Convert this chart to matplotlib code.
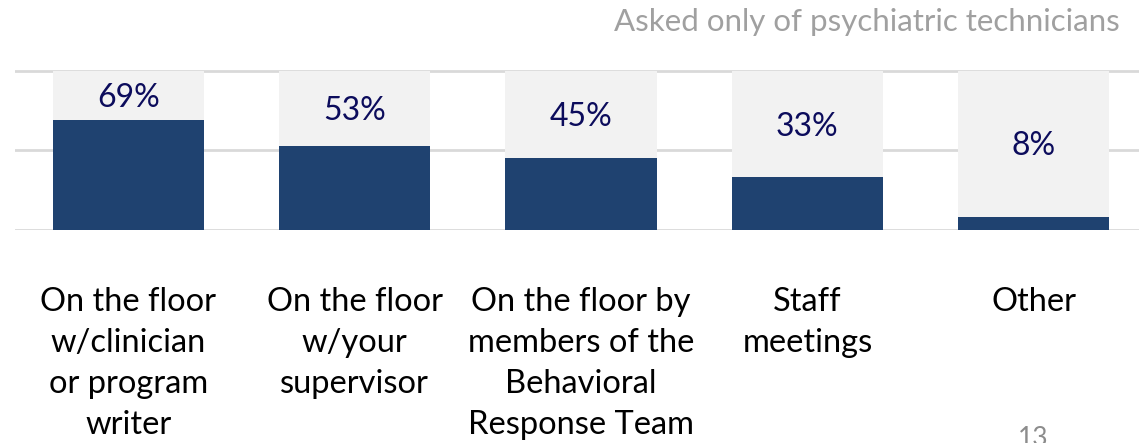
import matplotlib.pyplot as plt

plt.rcParams['font.family'] = ['Lato', 'DejaVu Sans']

categories = [
    "On the floor\nw/clinician\nor program\nwriter",
    "On the floor\nw/your\nsupervisor",
    "On the floor by\nmembers of the\nBehavioral\nResponse Team",
    "Staff\nmeetings",
    "Other",
]
values = [69, 53, 45, 33, 8]

bar_color = "#1f4270"
back_color = "#f2f2f2"
label_color = "#0c0c5c"

fig = plt.figure(figsize=(11.39, 4.43), dpi=100)
# axes runs a bit past the right edge like the original slide
ax = fig.add_axes([15 / 1139, 1 - 230 / 443, 1132 / 1139, 160 / 443])

x = range(len(values))
ax.bar(x, [100] * len(values), width=0.667, color=back_color, zorder=2)
ax.bar(x, values, width=0.667, color=bar_color, zorder=3)

for i, v in enumerate(values):
    ax.text(i, (v + 100) / 2 - 1.5, f"{v}%", ha="center", va="center",
            fontsize=23, color=label_color, zorder=4)
    ax.text(i, -36, categories[i], ha="center", va="top", fontsize=23.5,
            color="black", linespacing=1.46)

for g in [0, 50, 100]:
    ax.axhline(g, color="#d9d9d9", lw=2, zorder=1)

ax.set_xlim(-0.5, 4.5)
ax.set_ylim(0, 100.5)
ax.axis("off")

fig.text(1120 / 1139, 1 - 22 / 443, "Asked only of psychiatric technicians",
         ha="right", va="center", fontsize=22.5, color="#a0a0a0")
fig.text(1033 / 1139, 1 - 438 / 443, "13", ha="center", va="center",
         fontsize=19, color="#8c8c8c")

fig.savefig("out.png", dpi=100)
